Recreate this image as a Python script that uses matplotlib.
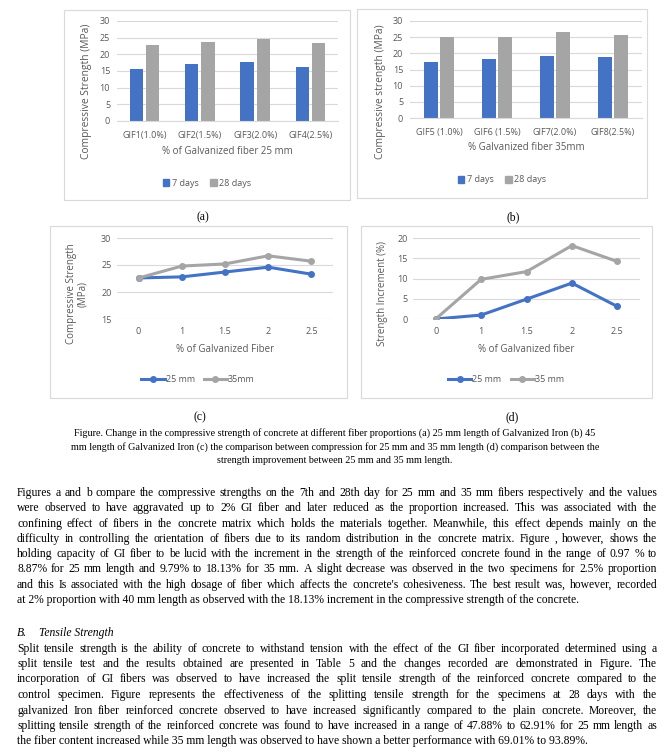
import numpy as np
import matplotlib

matplotlib.use("Agg")
import matplotlib.pyplot as plt
from matplotlib.patches import Rectangle
from matplotlib.lines import Line2D

# ---- data -------------------------------------------------------------
CATS_25 = ["GIF1(1.0%)", "GIF2(1.5%)", "GIF3(2.0%)", "GIF4(2.5%)"]
DAY7_25 = [15.5, 17.0, 17.6, 16.1]
DAY28_25 = [22.7, 23.6, 24.5, 23.3]

CATS_35 = ["GIF5 (1.0%)", "GIF6 (1.5%)", "GIF7(2.0%)", "GIF8(2.5%)"]
DAY7_35 = [17.2, 18.1, 19.1, 18.8]
DAY28_35 = [24.9, 25.2, 26.7, 25.8]

FIBER_PCT = ["0", "1", "1.5", "2", "2.5"]
STRENGTH_25 = [22.6, 22.8, 23.7, 24.6, 23.3]
STRENGTH_35 = [22.6, 24.8, 25.2, 26.7, 25.7]
INCREMENT_25 = [0.0, 0.97, 4.9, 8.87, 3.1]
INCREMENT_35 = [0.0, 9.79, 11.7, 18.13, 14.2]

CAPTION_LINES = [
    "Figure. Change in the compressive strength of concrete at different fiber proportions (a) 25 mm length of Galvanized Iron (b) 45",
    "mm length of Galvanized Iron (c) the comparison between compression for 25 mm and 35 mm length (d) comparison between the",
    "strength improvement between 25 mm and 35 mm length.",
]
PARA1_LINES = [
    "Figures a and b compare the compressive strengths on the 7th and 28th day for 25 mm and 35 mm fibers respectively and the values",
    "were observed to have aggravated up to 2% GI fiber and later reduced as the proportion increased. This was associated with the",
    "confining effect of fibers in the concrete matrix which holds the materials together. Meanwhile, this effect depends mainly on the",
    "difficulty in controlling the orientation of fibers due to its random distribution in the concrete matrix. Figure , however, shows the",
    "holding capacity of GI fiber to be lucid with the increment in the strength of the reinforced concrete found in the range of 0.97 % to",
    "8.87% for 25 mm length and 9.79% to 18.13% for 35 mm. A slight decrease was observed in the two specimens for 2.5% proportion",
    "and this Is associated with the high dosage of fiber which affects the concrete's cohesiveness. The best result was, however, recorded",
    "at 2% proportion with 40 mm length as observed with the 18.13% increment in the compressive strength of the concrete.",
]
HEADING = ("B.", "Tensile Strength")
PARA2_LINES = [
    "Split tensile strength is the ability of concrete to withstand tension with the effect of the GI fiber incorporated determined using a",
    "split tensile test and the results obtained are presented in Table 5 and the changes recorded are demonstrated in Figure. The",
    "incorporation of GI fibers was observed to have increased the split tensile strength of the reinforced concrete compared to the",
    "control specimen. Figure represents the effectiveness of the splitting tensile strength for the specimens at 28 days with the",
    "galvanized Iron fiber reinforced concrete observed to have increased significantly compared to the plain concrete. Moreover, the",
    "splitting tensile strength of the reinforced concrete was found to have increased in a range of 47.88% to 62.91% for 25 mm length as",
    "the fiber content increased while 35 mm length was observed to have shown a better performance with 69.01% to 93.89%.",
]

# ---- style ------------------------------------------------------------
W, H = 667, 753
BLUE = "#4472C4"
GRAY = "#A5A5A5"
TEXT = "#595959"
GRID = "#D9D9D9"
CHART_FONT = "Open Sans"
SERIF = "Liberation Serif"
TICK_SIZE = 6.5
LABEL_SIZE = 7.0
BODY_SIZE = 8.4
CAPTION_SIZE = 7.3
BASELINE_DROP = 3  # px from line centre to baseline

fig = plt.figure(figsize=(W / 100, H / 100), dpi=100)
fig.patch.set_facecolor("white")


def fx(x):
    return x / W


def fy(y):
    return 1 - y / H


def px_rect(left, top, right, bottom):
    return [left / W, 1 - bottom / H, (right - left) / W, (bottom - top) / H]


def chart_box(left, top, right, bottom):
    fig.add_artist(
        Rectangle(
            (fx(left), fy(bottom)),
            (right - left) / W,
            (bottom - top) / H,
            transform=fig.transFigure,
            fill=False,
            edgecolor=GRID,
            linewidth=0.8,
        )
    )


def style_axis(ax, x_pad, y_pad):
    for side in ("left", "right", "top"):
        ax.spines[side].set_visible(False)
    ax.spines["bottom"].set_color(GRID)
    ax.spines["bottom"].set_linewidth(0.8)
    ax.grid(True, axis="y", color=GRID, linewidth=0.8)
    ax.set_axisbelow(True)
    ax.tick_params(axis="both", length=0, colors=TEXT, labelsize=TICK_SIZE)
    ax.tick_params(axis="x", pad=x_pad)
    ax.tick_params(axis="y", pad=y_pad)
    for label in ax.get_xticklabels() + ax.get_yticklabels():
        label.set_fontfamily(CHART_FONT)


def chart_text(x, y, s, size=LABEL_SIZE, rotation=0, linespacing=1.2):
    fig.text(fx(x), fy(y), s, ha="center", va="center", rotation=rotation,
             color=TEXT, fontsize=size, family=CHART_FONT, linespacing=linespacing)


def bar_panel(rect, cats, s7, s28, width):
    ax = fig.add_axes(px_rect(*rect))
    x = np.arange(len(cats))
    gap = 0.05
    ax.bar(x - (width + gap) / 2, s7, width, color=BLUE, label="7 days")
    ax.bar(x + (width + gap) / 2, s28, width, color=GRAY, label="28 days")
    ax.set_xlim(-0.5, len(cats) - 0.5)
    ax.set_ylim(0, 30)
    ax.set_yticks(range(0, 31, 5))
    ax.set_xticks(x)
    ax.set_xticklabels(cats)
    style_axis(ax, x_pad=7, y_pad=5)
    return ax


def line_panel(rect, cats, s25, s35, ylim, yticks):
    ax = fig.add_axes(px_rect(*rect))
    x = np.arange(len(cats))
    ax.plot(x, s25, color=BLUE, lw=2.2, marker="o", ms=4, zorder=3)
    ax.plot(x, s35, color=GRAY, lw=2.2, marker="o", ms=4, zorder=3)
    ax.set_xlim(-0.5, len(cats) - 0.5)
    ax.set_ylim(*ylim)
    ax.set_yticks(yticks)
    ax.set_xticks(x)
    ax.set_xticklabels(cats)
    style_axis(ax, x_pad=6, y_pad=4)
    ax.spines["bottom"].set_visible(False)
    return ax


def bar_legend(x, y):
    handles = [Rectangle((0, 0), 1, 1, color=BLUE), Rectangle((0, 0), 1, 1, color=GRAY)]
    fig.legend(handles, ["7 days", "28 days"], loc="center", bbox_to_anchor=(fx(x), fy(y)),
               ncol=2, frameon=False, handlelength=0.75, handleheight=0.75,
               handletextpad=0.3, columnspacing=1.2, labelcolor=TEXT,
               prop={"family": CHART_FONT, "size": TICK_SIZE})


def line_legend(x, y, labels):
    handles = [Line2D([], [], color=BLUE, lw=2.2, marker="o", ms=4),
               Line2D([], [], color=GRAY, lw=2.2, marker="o", ms=4)]
    fig.legend(handles, labels, loc="center", bbox_to_anchor=(fx(x), fy(y)),
               ncol=2, frameon=False, handlelength=2.6, handletextpad=0.1,
               columnspacing=1.0, labelcolor=TEXT,
               prop={"family": CHART_FONT, "size": TICK_SIZE})


# ---- (a) ----
chart_box(64, 10, 350, 200)
bar_panel((117, 21, 338, 121), CATS_25, DAY7_25, DAY28_25, width=0.24)
chart_text(87, 91, "Compressive Strength (MPa)", size=7.4, rotation=90)
chart_text(227, 152, "% of Galvanized fiber 25 mm")
bar_legend(207, 183)

# ---- (b) ----
chart_box(357, 9, 647, 198)
bar_panel((410, 21, 642, 118), CATS_35, DAY7_35, DAY28_35, width=0.23)
chart_text(380, 92, "Compressive strength (MPa)", size=7.4, rotation=90)
chart_text(526, 148, "% Galvanized fiber 35mm")
bar_legend(502, 180)

# ---- (c) ----
chart_box(50, 226, 347, 398)
line_panel((117, 238, 333, 319), FIBER_PCT, STRENGTH_25, STRENGTH_35, (15, 30), range(15, 31, 5))
chart_text(77, 294, "Compressive Strength\n(MPa)", rotation=90, linespacing=1.1)
chart_text(225, 350, "% of Galvanized Fiber")
line_legend(198, 380, ["25 mm", "35mm"])

# ---- (d) ----
chart_box(361, 226, 652, 398)
line_panel((413, 238, 640, 319), FIBER_PCT, INCREMENT_25, INCREMENT_35, (0, 20), range(0, 21, 5))
chart_text(383, 293, "Strength Increment (%)", rotation=90)
chart_text(526, 350, "% of Galvanized fiber")
line_legend(506, 380, ["25 mm", "35 mm"])

# ---- sub captions ----
for label, x, y in (("(a)", 203, 217), ("(b)", 513, 217), ("(c)", 200, 417), ("(d)", 512, 417)):
    fig.text(fx(x), fy(y), label, ha="center", va="center", fontsize=BODY_SIZE,
             family=SERIF, color="black")

# ---- page text ----
renderer = fig.canvas.get_renderer()
LEFT, RIGHT = 17, 657


def page_text(x, y, s, size=BODY_SIZE, style="normal", ha="left"):
    # Agg places a string's bitmap by its rounded descent, which makes words
    # with descenders jump by a pixel; shift each one so baselines line up.
    base = round(y + BASELINE_DROP)
    t = fig.text(fx(x), fy(base), s, ha=ha, va="baseline",
                 fontsize=size, family=SERIF, style=style)
    _, h, d = renderer.get_text_width_height_descent(s, t.get_fontproperties(), ismath=False)
    t.set_y(fy(base + np.floor(h) - np.floor(h - d) - d))
    return t


def justified(lines, y0, dy, size=BODY_SIZE, style="normal"):
    for i, line in enumerate(lines):
        y = y0 + i * dy
        if i == len(lines) - 1:
            page_text(LEFT, y, line, size, style)
            continue
        words = line.split()
        texts = [page_text(0, y, w, size, style) for w in words]
        widths = [t.get_window_extent(renderer).width for t in texts]
        gap = (RIGHT - LEFT - sum(widths)) / (len(words) - 1)
        x = LEFT
        for t, w in zip(texts, widths):
            t.set_x(fx(x))
            x += w + gap


for i, line in enumerate(CAPTION_LINES):
    page_text(335, 433 + i * 13.5, line, size=CAPTION_SIZE, ha="center")

justified(PARA1_LINES, 493, 15.3)

page_text(LEFT, 633, HEADING[0], style="italic")
page_text(39, 633, HEADING[1], style="italic")

justified(PARA2_LINES, 648.5, 15.5)

fig.savefig("out.png", dpi=100)
